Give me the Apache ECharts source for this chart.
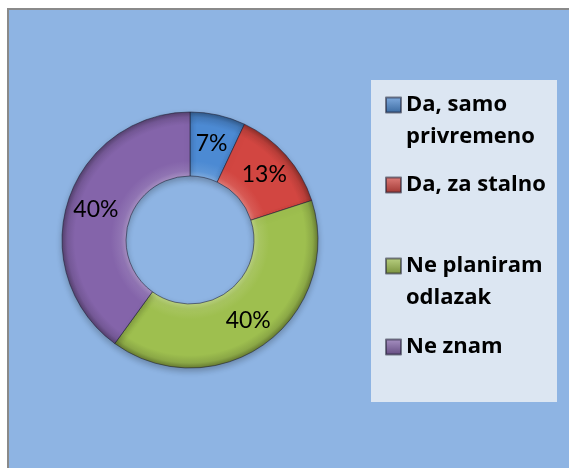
<!DOCTYPE html>
<html>
<head>
<meta charset="utf-8">
<script src="https://cdn.jsdelivr.net/npm/echarts@6/dist/echarts.min.js"></script>
<style>
  html, body { margin: 0; padding: 0; background: #ffffff; }
  #chart { width: 569px; height: 468px; }
</style>
</head>
<body>
<div id="chart"></div>
<script>
// Answers to "planning to leave?" survey question
const categories = ['Da, samo privremeno', 'Da, za stalno', 'Ne planiram odlazak', 'Ne znam'];
const legendLines = ['Da, samo\nprivremeno', 'Da, za stalno', 'Ne planiram\nodlazak', 'Ne znam'];
const shares = [7, 13, 40, 40];
const colors = ['#4C8AD3', '#D24641', '#9EBF4F', '#8464AA'];

const CX = 190, CY = 240, R_IN = 64, R_OUT = 128;

function shade(hex, k) {
  const n = parseInt(hex.slice(1), 16);
  let r = (n >> 16) & 255, g = (n >> 8) & 255, b = n & 255;
  const f = c => Math.max(0, Math.min(255, Math.round(k >= 0 ? c + (255 - c) * k : c * (1 + k))));
  return 'rgb(' + f(r) + ',' + f(g) + ',' + f(b) + ')';
}

// ring-shaped bevel: radial gradient following the donut band
function bevel(hex) {
  const a = R_IN / R_OUT;
  return {
    type: 'radial', x: CX, y: CY, r: R_OUT, global: true,
    colorStops: [
      { offset: 0, color: hex },
      { offset: a, color: shade(hex, 0.28) },
      { offset: a + 0.04, color: shade(hex, 0.1) },
      { offset: a + 0.12, color: hex },
      { offset: 0.9, color: hex },
      { offset: 0.96, color: shade(hex, -0.12) },
      { offset: 1, color: shade(hex, -0.35) }
    ]
  };
}

const pieData = categories.map((name, i) => ({
  name: name,
  value: shares[i],
  itemStyle: { color: bevel(colors[i]) }
}));

// one legend block per entry; the marker sits beside the first text line
const legendTops = [57, 169, 218, 331];
const legends = categories.map((name, i) => {
  const twoLine = legendLines[i].indexOf('\n') >= 0;
  return {
    orient: 'vertical',
    left: 385,
    top: legendTops[i],
    padding: 0,
    itemWidth: 15,
    itemHeight: 15,
    itemGap: 0,
    selectedMode: false,
    icon: 'rect',
    data: [{ name: name, itemStyle: { color: {
      type: 'linear', x: 0, y: 0, x2: 0, y2: 1,
      colorStops: [{ offset: 0, color: shade(colors[i], 0.3) }, { offset: 1, color: shade(colors[i], -0.25) }]
    } } }],
    formatter: () => (twoLine ? '\n' : '') + legendLines[i],
    textStyle: {
      fontFamily: 'Open Sans',
      fontWeight: 'bold',
      fontSize: 22,
      lineHeight: 32,
      color: '#000'
    }
  };
});

const chart = echarts.init(document.getElementById('chart'), null, { renderer: 'canvas' });
chart.setOption({
  animation: false,
  backgroundColor: '#ffffff',
  graphic: [
    {
      type: 'rect', z: -10, silent: true,
      shape: { x: 8, y: 9, width: 600, height: 500 },
      style: { fill: '#8EB4E3', stroke: '#8a8a8a', lineWidth: 2 }
    },
    {
      type: 'rect', z: -9, silent: true,
      shape: { x: 371, y: 80, width: 186, height: 322 },
      style: { fill: '#DCE6F2' }
    }
  ],
  legend: legends,
  series: [{
    type: 'pie',
    center: [CX, CY],
    radius: [R_IN, R_OUT],
    startAngle: 90,
    clockwise: true,
    silent: true,
    data: pieData,
    itemStyle: {
      borderColor: 'rgba(30,30,50,0.55)',
      borderWidth: 1,
      shadowBlur: 6,
      shadowOffsetY: 3,
      shadowColor: 'rgba(0,0,0,0.25)'
    },
    label: {
      show: true,
      position: 'inside',
      formatter: p => p.value + '%',
      fontFamily: 'Lato',
      fontSize: 23,
      color: '#000'
    },
    labelLine: { show: false }
  }]
});
</script>
</body>
</html>
